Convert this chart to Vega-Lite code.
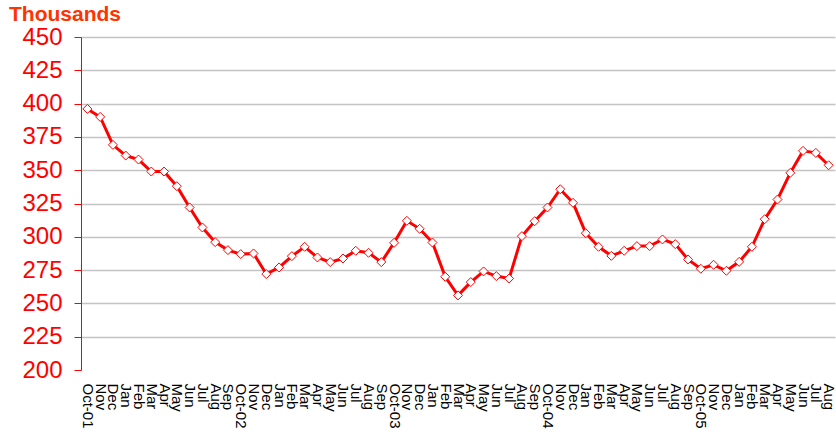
{
  "$schema": "https://vega.github.io/schema/vega-lite/v6.json",
  "width": 754,
  "height": 333,
  "autosize": {"type": "none"},
  "padding": {"left": 81, "top": 37, "right": 1, "bottom": 73},
  "background": "white",
  "config": {"view": {"stroke": null}, "font": "Liberation Sans"},
  "title": {
    "text": "Thousands",
    "anchor": "start",
    "frame": "group",
    "dx": -72,
    "font": "Liberation Sans",
    "fontSize": 21,
    "fontWeight": "bold",
    "color": "#ff3300",
    "offset": 0
  },
  "data": {
    "values": [
      {"month": "Oct-01", "value": 396},
      {"month": "Nov-01", "value": 390},
      {"month": "Dec-01", "value": 369},
      {"month": "Jan-02", "value": 361},
      {"month": "Feb-02", "value": 358},
      {"month": "Mar-02", "value": 349},
      {"month": "Apr-02", "value": 349},
      {"month": "May-02", "value": 338},
      {"month": "Jun-02", "value": 322},
      {"month": "Jul-02", "value": 307},
      {"month": "Aug-02", "value": 296},
      {"month": "Sep-02", "value": 290},
      {"month": "Oct-02", "value": 287},
      {"month": "Nov-02", "value": 287.5},
      {"month": "Dec-02", "value": 272},
      {"month": "Jan-03", "value": 277},
      {"month": "Feb-03", "value": 285.5},
      {"month": "Mar-03", "value": 292.5},
      {"month": "Apr-03", "value": 284.5},
      {"month": "May-03", "value": 281},
      {"month": "Jun-03", "value": 283.7},
      {"month": "Jul-03", "value": 289.5},
      {"month": "Aug-03", "value": 288},
      {"month": "Sep-03", "value": 281},
      {"month": "Oct-03", "value": 295.5},
      {"month": "Nov-03", "value": 312},
      {"month": "Dec-03", "value": 306},
      {"month": "Jan-04", "value": 295.7},
      {"month": "Feb-04", "value": 270},
      {"month": "Mar-04", "value": 256},
      {"month": "Apr-04", "value": 266},
      {"month": "May-04", "value": 274},
      {"month": "Jun-04", "value": 270.5},
      {"month": "Jul-04", "value": 268.7},
      {"month": "Aug-04", "value": 300.5},
      {"month": "Sep-04", "value": 311.7},
      {"month": "Oct-04", "value": 322},
      {"month": "Nov-04", "value": 335.7},
      {"month": "Dec-04", "value": 325.5},
      {"month": "Jan-05", "value": 302.7},
      {"month": "Feb-05", "value": 292.5},
      {"month": "Mar-05", "value": 285.7},
      {"month": "Apr-05", "value": 289.5},
      {"month": "May-05", "value": 293},
      {"month": "Jun-05", "value": 293},
      {"month": "Jul-05", "value": 298},
      {"month": "Aug-05", "value": 294.5},
      {"month": "Sep-05", "value": 283},
      {"month": "Oct-05", "value": 276},
      {"month": "Nov-05", "value": 279},
      {"month": "Dec-05", "value": 274.5},
      {"month": "Jan-06", "value": 281.2},
      {"month": "Feb-06", "value": 292.5},
      {"month": "Mar-06", "value": 313.2},
      {"month": "Apr-06", "value": 328},
      {"month": "May-06", "value": 348},
      {"month": "Jun-06", "value": 364.5},
      {"month": "Jul-06", "value": 363},
      {"month": "Aug-06", "value": 353.7}
    ]
  },
  "encoding": {
    "x": {
      "field": "month",
      "type": "ordinal",
      "sort": null,
      "scale": {"type": "point", "padding": 0.5},
      "axis": {
        "title": null,
        "domain": false,
        "ticks": false,
        "grid": false,
        "labelAngle": 90,
        "labelAlign": "left",
        "labelBaseline": "middle",
        "labelPadding": 13,
        "labelFont": "Liberation Sans",
        "labelFontSize": 15,
        "labelColor": "#000000",
        "labelOverlap": false,
        "labelBound": false,
        "labelFlush": false,
        "labelExpr": "slice(datum.value, 0, 3) == 'Oct' ? datum.value : slice(datum.value, 0, 3)"
      }
    },
    "y": {
      "field": "value",
      "type": "quantitative",
      "scale": {"domain": [200, 450], "nice": false, "zero": false},
      "axis": {
        "title": null,
        "values": [200, 225, 250, 275, 300, 325, 350, 375, 400, 425, 450],
        "domainColor": "#ff0000",
        "domainWidth": 1,
        "tickColor": "#ff0000",
        "tickSize": 7,
        "tickWidth": 1,
        "labelPadding": 12,
        "labelFont": "Liberation Sans",
        "labelFontSize": 24,
        "labelColor": "#ff0000",
        "labelBound": false,
        "labelFlush": false,
        "grid": true,
        "gridColor": {"condition": {"test": "datum.value == 200", "value": "transparent"}, "value": "#c4c4c4"},
        "gridWidth": 1.5
      }
    }
  },
  "layer": [
    {"mark": {"type": "line", "color": "#ff0000", "strokeWidth": 3}},
    {"mark": {"type": "point", "shape": "diamond", "filled": true, "fill": "#ffffff", "stroke": "#ff0000", "strokeWidth": 1, "size": 81, "opacity": 1}}
  ]
}
